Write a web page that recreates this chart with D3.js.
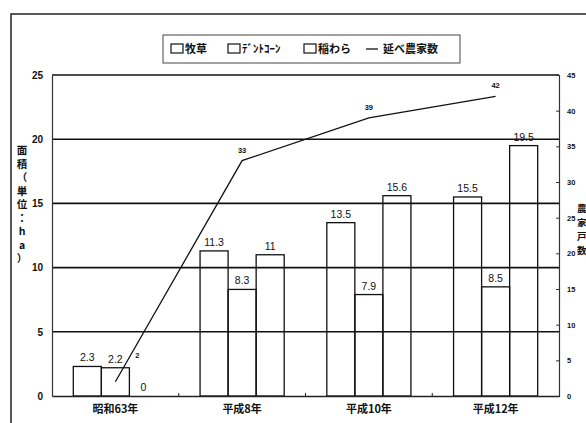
<!DOCTYPE html>
<html>
<head>
<meta charset="utf-8">
<script src="https://cdn.jsdelivr.net/npm/d3@7"></script>
<style>
  body { margin: 0; background: #fff; }
  text { font-family: "Noto Sans CJK JP", "Noto Sans", sans-serif; fill: #111; }
</style>
</head>
<body>
<div id="chart"></div>
<script>
var svgWidth = 586;
var svgHeight = 423;

// data
var categories = ["昭和63年", "平成8年", "平成10年", "平成12年"];
var seriesNames = ["牧草", "ﾃﾞﾝﾄｺｰﾝ", "稲わら"];
var bokusou = [2.3, 11.3, 13.5, 15.5];
var dentCorn = [2.2, 8.3, 7.9, 8.5];
var inewara = [0, 11, 15.6, 19.5];
var farmers = [2, 33, 39, 42];
var lineName = "延べ農家数";
var leftTicks = [0, 5, 10, 15, 20, 25];
var rightTicks = [0, 5, 10, 15, 20, 25, 30, 35, 40, 45];

var chartMargin = { top: 75, right: 27, bottom: 27, left: 52 };
var chartWidth = svgWidth - chartMargin.left - chartMargin.right;
var chartHeight = svgHeight - chartMargin.top - chartMargin.bottom;

var svg = d3.select("#chart")
  .append("svg")
  .attr("width", svgWidth)
  .attr("height", svgHeight);

// outer frame (only top and left visible)
svg.append("path")
  .attr("d", "M11,423 L11,14 L586,14")
  .attr("fill", "none")
  .attr("stroke", "#222")
  .attr("stroke-width", 1.5);

var chartGroup = svg.append("g")
  .attr("transform", `translate(${chartMargin.left}, ${chartMargin.top})`);

var xScale = d3.scaleBand()
  .domain(categories)
  .range([0, chartWidth]);

var xInner = d3.scaleBand()
  .domain(seriesNames)
  .range([0, xScale.bandwidth()])
  .paddingOuter(0.76);

var yScale = d3.scaleLinear().domain([0, 25]).range([chartHeight, 0]);
var y2Scale = d3.scaleLinear().domain([0, 45]).range([chartHeight, 0]);

// bars (no fill, grid shows through like the original)
var seriesValues = [bokusou, dentCorn, inewara];
var barData = [];
categories.forEach(function(c, i) {
  seriesNames.forEach(function(s, j) {
    barData.push({ cat: c, name: s, value: seriesValues[j][i] });
  });
});

chartGroup.selectAll(".bar")
  .data(barData)
  .enter().append("rect")
  .attr("x", d => xScale(d.cat) + xInner(d.name))
  .attr("y", d => yScale(d.value))
  .attr("width", xInner.bandwidth())
  .attr("height", d => chartHeight - yScale(d.value))
  .attr("fill", "none")
  .attr("stroke", "#111")
  .attr("stroke-width", 1.3);

// gridlines
chartGroup.selectAll(".grid")
  .data(leftTicks.slice(1))
  .enter().append("line")
  .attr("x1", 0)
  .attr("x2", chartWidth)
  .attr("y1", d => yScale(d))
  .attr("y2", d => yScale(d))
  .attr("stroke", "#111")
  .attr("stroke-width", 1.6);

// left axis
var leftAxis = d3.axisLeft(yScale).tickValues(leftTicks).tickSize(0).tickPadding(9);
var lg = chartGroup.append("g").call(leftAxis);
lg.select(".domain").attr("stroke", "#333").attr("stroke-width", 1.2);
lg.selectAll("text").style("font-size", "10px").style("font-family", "Liberation Sans, Arial, sans-serif").style("font-weight", "bold");

// right axis
var rightAxis = d3.axisRight(y2Scale).tickValues(rightTicks).tickSize(-3).tickPadding(8);
var rg = chartGroup.append("g")
  .attr("transform", `translate(${chartWidth}, 0)`)
  .call(rightAxis);
rg.select(".domain").attr("stroke", "#333").attr("stroke-width", 1.2);
rg.selectAll("line").attr("stroke", "#333");
rg.selectAll("text").style("font-size", "7.5px").style("font-family", "Liberation Sans, Arial, sans-serif").style("font-weight", "bold");

// bottom axis
var bottomAxis = d3.axisBottom(xScale).tickSize(0).tickPadding(9);
var bg = chartGroup.append("g")
  .attr("transform", `translate(0, ${chartHeight})`)
  .call(bottomAxis);
bg.select(".domain").attr("stroke", "#222").attr("stroke-width", 1.6);
bg.selectAll("text").style("font-size", "11px").style("font-weight", "bold");

// small ticks at category boundaries
chartGroup.selectAll(".btick")
  .data(categories.slice(1))
  .enter().append("line")
  .attr("x1", d => xScale(d))
  .attr("x2", d => xScale(d))
  .attr("y1", chartHeight)
  .attr("y2", chartHeight - 3)
  .attr("stroke", "#222");

chartGroup.selectAll(".barLabel")
  .data(barData)
  .enter().append("text")
  .attr("x", d => xScale(d.cat) + xInner(d.name) + xInner.bandwidth() / 2)
  .attr("y", d => yScale(d.value) - 5)
  .attr("text-anchor", "middle")
  .style("font-size", "10.5px")
  .style("font-family", "Liberation Sans, Arial, sans-serif")
  .text(d => d.value);

// line
var lineData = categories.map((c, i) => ({ cat: c, value: farmers[i] }));
var line = d3.line()
  .x(d => xScale(d.cat) + xScale.bandwidth() / 2)
  .y(d => y2Scale(d.value));

chartGroup.append("path")
  .datum(lineData)
  .attr("d", line)
  .attr("fill", "none")
  .attr("stroke", "#111")
  .attr("stroke-width", 1.3);

chartGroup.selectAll(".lineLabel")
  .data(lineData)
  .enter().append("text")
  .attr("x", (d, i) => xScale(d.cat) + xScale.bandwidth() / 2 + (i === 0 ? 22 : 0))
  .attr("y", (d, i) => y2Scale(d.value) - (i === 0 ? 24 : 8))
  .attr("text-anchor", "middle")
  .style("font-size", "7.5px")
  .style("font-family", "Liberation Sans, Arial, sans-serif")
  .style("font-weight", "bold")
  .text(d => d.value);

// axis titles (vertical)
var leftTitle = "面積（単位：ha）".split("");
svg.append("g").selectAll("text")
  .data(leftTitle)
  .enter().append("text")
  .attr("x", 22)
  .attr("y", (d, i) => 154 + i * 13.5)
  .attr("text-anchor", "middle")
  .style("font-size", "10.5px")
  .style("font-weight", "bold")
  .text(d => d);

var rightTitle = "農家戸数".split("");
svg.append("g").selectAll("text")
  .data(rightTitle)
  .enter().append("text")
  .attr("x", 577)
  .attr("y", (d, i) => 212 + i * 14)
  .style("font-size", "9.5px")
  .style("font-weight", "bold")
  .text(d => d);

// legend
var legend = svg.append("g");
legend.append("rect")
  .attr("x", 163).attr("y", 35)
  .attr("width", 297).attr("height", 28)
  .attr("fill", "#fff")
  .attr("stroke", "#444")
  .attr("stroke-width", 1);

var legendX = [171, 228, 304];
seriesNames.forEach(function(s, i) {
  legend.append("rect")
    .attr("x", legendX[i]).attr("y", 44)
    .attr("width", 12).attr("height", 9)
    .attr("fill", "#fff").attr("stroke", "#111").attr("stroke-width", 1.2);
  legend.append("text")
    .attr("x", legendX[i] + 14).attr("y", 53)
    .style("font-size", "11px")
    .style("font-weight", "bold")
    .text(s);
});
legend.append("line")
  .attr("x1", 366).attr("x2", 378)
  .attr("y1", 49).attr("y2", 49)
  .attr("stroke", "#111").attr("stroke-width", 1.3);
legend.append("text")
  .attr("x", 383).attr("y", 53)
  .style("font-size", "11px")
  .style("font-weight", "bold")
  .text(lineName);
</script>
</body>
</html>
